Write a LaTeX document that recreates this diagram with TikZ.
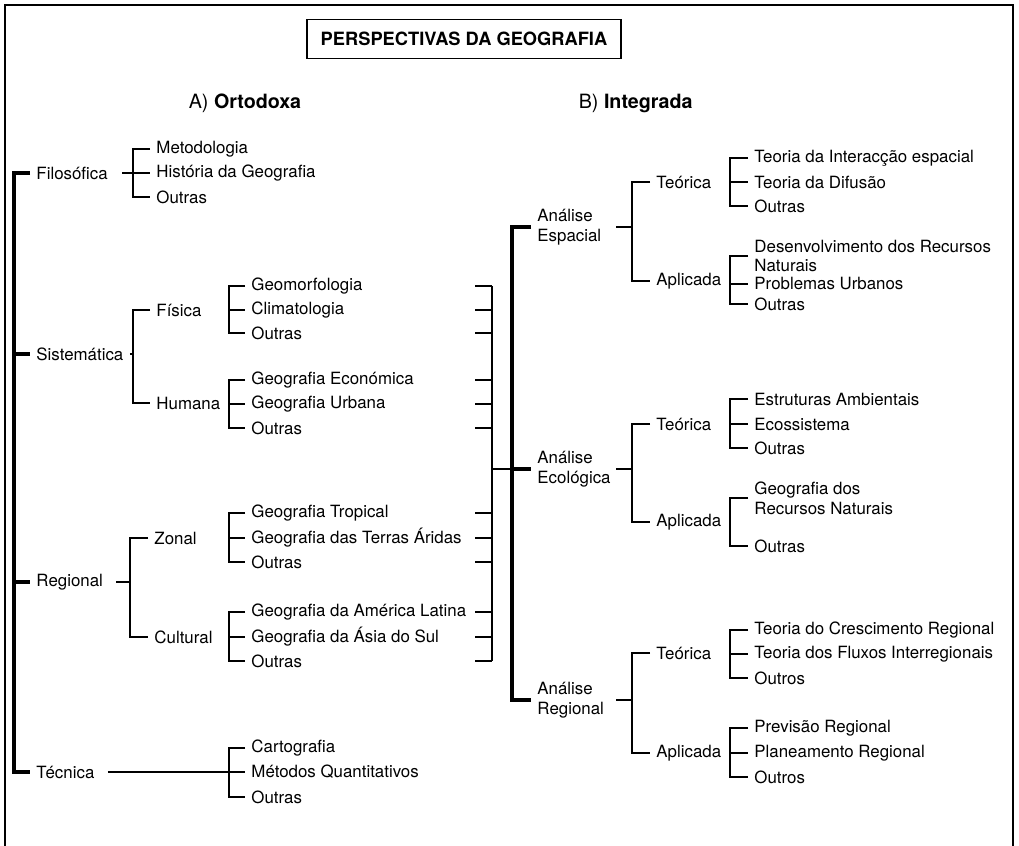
\documentclass[tikz,border=0pt]{standalone}
\usepackage{fontspec}
\setmainfont{TeX Gyre Heros}
\usetikzlibrary{positioning, calc}

\begin{document}
\begin{tikzpicture}[x=0.025cm, y=-0.025cm, very thick, font=\fontsize{12}{14}\selectfont]

		% Define styles
		\tikzstyle{leaf} = [anchor=west, inner xsep=4pt, inner ysep=1pt, align=left]
		\tikzstyle{head} = [anchor=west, inner sep=0pt, font=\fontsize{14}{16}\selectfont]
		\tikzstyle{titlebox} = [rectangle, draw, line width=1pt, minimum width=7.85cm, minimum height=0.975cm, font=\fontsize{13}{15}\selectfont\bfseries]
		\tikzstyle{trunk} = [line width=2.6pt]

		\useasboundingbox (0,0) rectangle (1019,846);
		\draw[line width=1.5pt] (5,846) -- (5,5) -- (1013,5) -- (1013,846);

		% Title
		\node[titlebox] (title) at (464,39) {PERSPECTIVAS DA GEOGRAFIA};
		\node[head] (orto) at (188,103) {A) \textbf{Ortodoxa}};
		\node[head] (integ) at (578,103) {B) \textbf{Integrada}};

		% Bracket columns
		\coordinate (root) at (14,0);
		\coordinate (bsis) at (133,0);
		\coordinate (breg) at (130,0);
		\coordinate (bleaf) at (229,0);
		\coordinate (cL) at (475,0);
		\coordinate (cR) at (492,0);
		\coordinate (trk) at (512,0);
		\coordinate (rL) at (616,0);
		\coordinate (rB) at (632,0);
		\coordinate (rleaf) at (730,0);

		% Nodes - A) Ortodoxa
		\node[leaf] (fil) at (30,173) {Filosófica};
		\node[leaf] (sis) at (30,354) {Sistemática};
		\node[leaf] (reg) at (30,582) {Regional};
		\node[leaf] (tec) at (30,772) {Técnica};

		\node[leaf] (fil1) at (150,149) {Metodologia};
		\node[leaf] (fil2) at (150,173) {História da Geografia};
		\node[leaf] (fil3) at (150,197) {Outras};

		\node[leaf] (fis) at (150,310) {Física};
		\node[leaf] (hum) at (150,403) {Humana};
		\node[leaf] (zon) at (148,538) {Zonal};
		\node[leaf] (cul) at (148,637) {Cultural};

		\node[leaf] (fis1) at (245,286) {Geomorfologia};
		\node[leaf] (fis2) at (245,310) {Climatologia};
		\node[leaf] (fis3) at (245,333) {Outras};
		\node[leaf] (hum1) at (245,380) {Geografia Económica};
		\node[leaf] (hum2) at (245,404) {Geografia Urbana};
		\node[leaf] (hum3) at (245,428) {Outras};
		\node[leaf] (zon1) at (245,513) {Geografia Tropical};
		\node[leaf] (zon2) at (245,538) {Geografia das Terras Áridas};
		\node[leaf] (zon3) at (245,562) {Outras};
		\node[leaf] (cul1) at (245,612) {Geografia da América Latina};
		\node[leaf] (cul2) at (245,637) {Geografia da Ásia do Sul};
		\node[leaf] (cul3) at (245,661) {Outras};
		\node[leaf] (tec1) at (245,748) {Cartografia};
		\node[leaf] (tec2) at (245,772) {Métodos Quantitativos};
		\node[leaf] (tec3) at (245,797) {Outras};

		% Nodes - B) Integrada
		\node[leaf] (esp) at (531,227) {Análise\\Espacial};
		\node[leaf] (eco) at (531,469) {Análise\\Ecológica};
		\node[leaf] (are) at (531,700) {Análise\\Regional};

		\node[leaf] (espt) at (650,182) {Teórica};
		\node[leaf] (espa) at (650,281) {Aplicada};
		\node[leaf] (ecot) at (650,424) {Teórica};
		\node[leaf] (ecoa) at (650,522) {Aplicada};
		\node[leaf] (aret) at (650,653) {Teórica};
		\node[leaf] (area) at (650,753) {Aplicada};

		\node[leaf] (espt1) at (748,158) {Teoria da Interacção espacial};
		\node[leaf] (espt2) at (748,182) {Teoria da Difusão};
		\node[leaf] (espt3) at (748,206) {Outras};
		\node[leaf] (espa1) at (748,256) {Desenvolvimento dos Recursos\\Naturais};
		\node[leaf] (espa2) at (748,284) {Problemas Urbanos};
		\node[leaf] (espa3) at (748,304) {Outras};
		\node[leaf] (ecot1) at (748,399) {Estruturas Ambientais};
		\node[leaf] (ecot2) at (748,424) {Ecossistema};
		\node[leaf] (ecot3) at (748,448) {Outras};
		\node[leaf] (ecoa1) at (748,498) {Geografia dos\\Recursos Naturais};
		\node[leaf] (ecoa2) at (748,546) {Outras};
		\node[leaf] (aret1) at (748,630) {Teoria do Crescimento Regional};
		\node[leaf] (aret2) at (748,654) {Teoria dos Fluxos Interregionais};
		\node[leaf] (aret3) at (748,678) {Outros};
		\node[leaf] (area1) at (748,728) {Previsão Regional};
		\node[leaf] (area2) at (748,753) {Planeamento Regional};
		\node[leaf] (area3) at (748,777) {Outros};

		% Lines - left tree
		\draw[trunk] (fil.west) -- (fil.west -| root) -- (tec.west -| root) -- (tec.west);
		\draw[trunk] (sis.west -| root) -- (sis.west);
		\draw[trunk] (reg.west -| root) -- (reg.west);

		\draw (fil1.west) -| (fil3.west -| bsis) -- (fil3.west);
		\draw ($(fil.east)+(8,0)$) -- (fil2.west);
		\draw (fis.west) -| (hum.west -| bsis) -- (hum.west);
		\draw (sis.east) -- (sis.east -| bsis);
		\draw (zon.west) -| (cul.west -| breg) -- (cul.west);
		\draw ($(reg.east)+(7,0)$) -- (reg.east -| breg);
		\draw ($(tec.east)+(7,0)$) -- (tec2.west);

		\draw (fis1.west) -| (fis3.west -| bleaf) -- (fis3.west);
		\draw (fis2.west -| bleaf) -- (fis2.west);
		\draw (hum1.west) -| (hum3.west -| bleaf) -- (hum3.west);
		\draw (hum2.west -| bleaf) -- (hum2.west);
		\draw (zon1.west) -| (zon3.west -| bleaf) -- (zon3.west);
		\draw (zon2.west -| bleaf) -- (zon2.west);
		\draw (cul1.west) -| (cul3.west -| bleaf) -- (cul3.west);
		\draw (cul2.west -| bleaf) -- (cul2.west);
		\draw (tec1.west) -| (tec3.west -| bleaf) -- (tec3.west);

		% Ticks joining the two sides
		\draw (fis1 -| cL) -- (fis1 -| cR);
		\draw (fis2 -| cL) -- (fis2 -| cR);
		\draw (fis3 -| cL) -- (fis3 -| cR);
		\draw (hum1 -| cL) -- (hum1 -| cR);
		\draw (hum2 -| cL) -- (hum2 -| cR);
		\draw (hum3 -| cL) -- (hum3 -| cR);
		\draw (zon1 -| cL) -- (zon1 -| cR);
		\draw (zon2 -| cL) -- (zon2 -| cR);
		\draw (zon3 -| cL) -- (zon3 -| cR);
		\draw (cul1 -| cL) -- (cul1 -| cR);
		\draw (cul2 -| cL) -- (cul2 -| cR);
		\draw (cul3 -| cL) -- (cul3 -| cR);
		\draw (fis1 -| cR) -- (cul3 -| cR);
		\draw (eco.west -| cR) -- (eco.west -| trk);

		% Lines - right tree
		\draw[trunk] (esp.west) -- (esp.west -| trk) -- (are.west -| trk) -- (are.west);
		\draw[trunk] (eco.west -| trk) -- (eco.west);

		\draw (esp.west -| rL) -- (esp.west -| rB);
		\draw (espt.west) -| (espa.west -| rB) -- (espa.west);
		\draw (eco.west -| rL) -- (eco.west -| rB);
		\draw (ecot.west) -| (ecoa.west -| rB) -- (ecoa.west);
		\draw (are.west -| rL) -- (are.west -| rB);
		\draw (aret.west) -| (area.west -| rB) -- (area.west);

		\draw (espt1.west) -| (espt3.west -| rleaf) -- (espt3.west);
		\draw (espt2.west -| rleaf) -- (espt2.west);
		\draw (espa1.west) -| (espa3.west -| rleaf) -- (espa3.west);
		\draw (espa2.west -| rleaf) -- (espa2.west);
		\draw (ecot1.west) -| (ecot3.west -| rleaf) -- (ecot3.west);
		\draw (ecot2.west -| rleaf) -- (ecot2.west);
		\draw (ecoa1.west) -| (ecoa2.west -| rleaf) -- (ecoa2.west);
		\draw (aret1.west) -| (aret3.west -| rleaf) -- (aret3.west);
		\draw (aret2.west -| rleaf) -- (aret2.west);
		\draw (area1.west) -| (area3.west -| rleaf) -- (area3.west);
		\draw (area2.west -| rleaf) -- (area2.west);

	\end{tikzpicture}
\end{document}
